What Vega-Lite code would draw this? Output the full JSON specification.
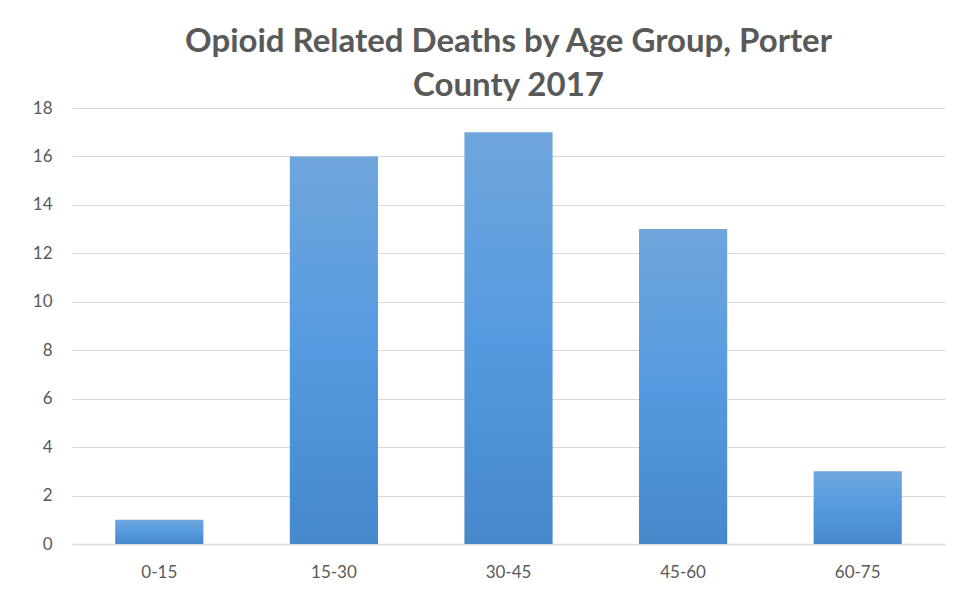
{
  "$schema": "https://vega.github.io/schema/vega-lite/v6.json",
  "width": 873,
  "height": 436,
  "autosize": {"type": "none"},
  "padding": {"left": 72, "top": 108, "right": 21, "bottom": 63},
  "background": "white",
  "title": {
    "text": ["Opioid Related Deaths by Age Group, Porter", "County 2017"],
    "font": "Lato",
    "fontSize": 33,
    "fontWeight": "bold",
    "color": "#595959",
    "lineHeight": 44,
    "anchor": "middle",
    "offset": -4
  },
  "data": {
    "values": [
      {"age": "0-15", "deaths": 1},
      {"age": "15-30", "deaths": 16},
      {"age": "30-45", "deaths": 17},
      {"age": "45-60", "deaths": 13},
      {"age": "60-75", "deaths": 3}
    ]
  },
  "mark": {
    "type": "bar",
    "color": {
      "gradient": "linear",
      "x1": 0, "y1": 0, "x2": 0, "y2": 1,
      "stops": [
        {"offset": 0, "color": "#6fa6dc"},
        {"offset": 0.5, "color": "#559ae0"},
        {"offset": 1, "color": "#4589cb"}
      ]
    }
  },
  "encoding": {
    "x": {
      "field": "age",
      "type": "nominal",
      "sort": null,
      "title": null,
      "scale": {"paddingInner": 0.495, "paddingOuter": 0.2475},
      "axis": {
        "labelAngle": 0,
        "labelFont": "Lato",
        "labelFontSize": 17,
        "labelColor": "#595959",
        "labelPadding": 20,
        "ticks": false,
        "domainColor": "#d9d9d9",
        "domainWidth": 1.5
      }
    },
    "y": {
      "field": "deaths",
      "type": "quantitative",
      "title": null,
      "scale": {"domain": [0, 18]},
      "axis": {
        "values": [0, 2, 4, 6, 8, 10, 12, 14, 16, 18],
        "labelFont": "Lato",
        "labelFontSize": 17,
        "labelColor": "#595959",
        "labelPadding": 20,
        "ticks": false,
        "domain": false,
        "gridColor": "#d9d9d9",
        "gridWidth": 1
      }
    }
  },
  "config": {"view": {"stroke": null}}
}
